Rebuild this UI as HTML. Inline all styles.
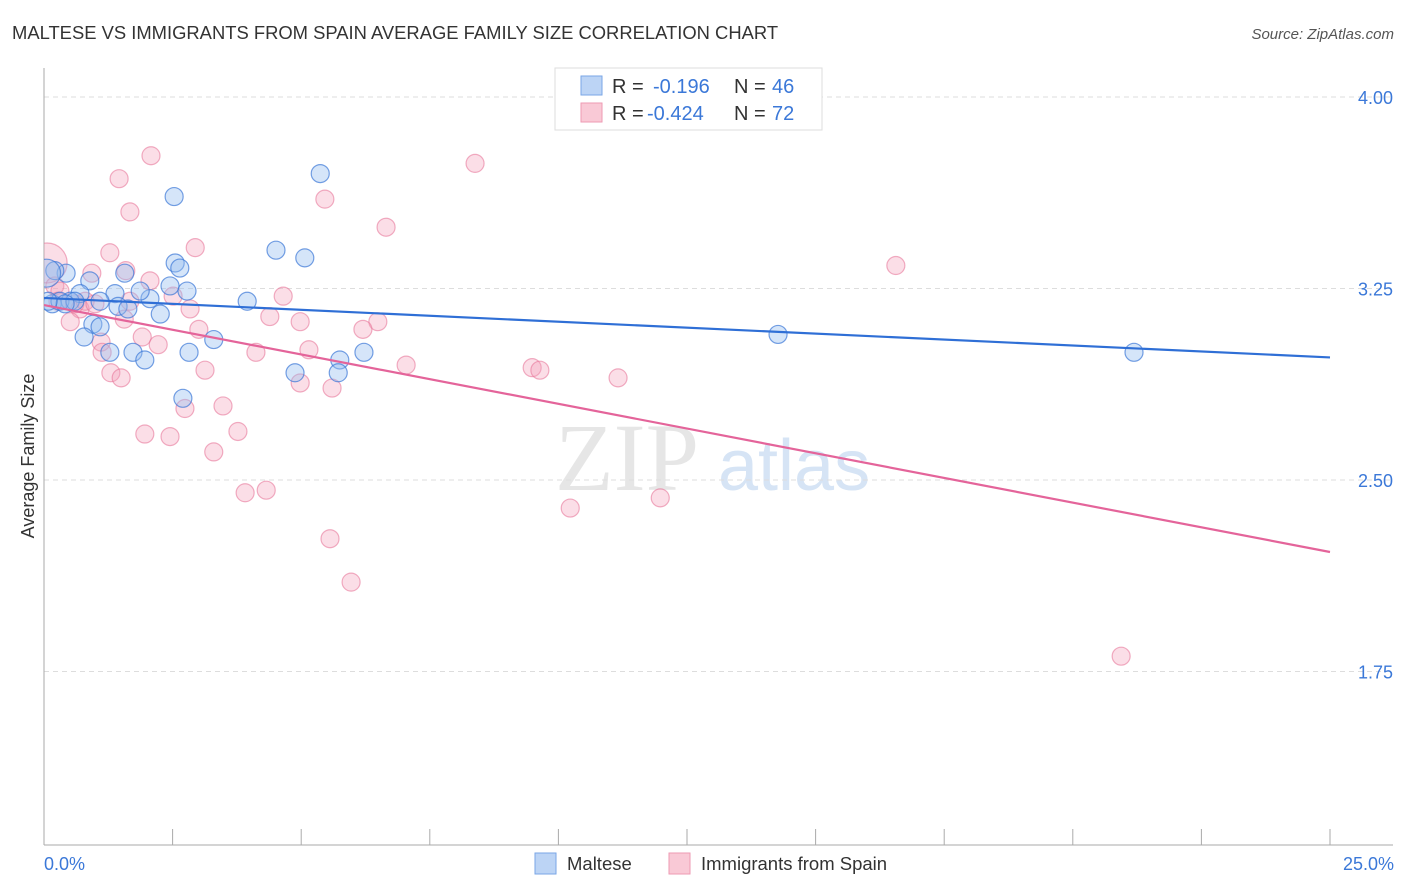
<!DOCTYPE html>
<html><head><meta charset="utf-8">
<style>
body{margin:0;background:#fff;width:1406px;height:892px;overflow:hidden;font-family:"Liberation Sans",sans-serif;}
svg{display:block}
</style></head>
<body>
<svg id="chart" width="1406" height="892" xmlns="http://www.w3.org/2000/svg">
<defs><clipPath id="plotclip"><rect x="44" y="60" width="1360" height="785"/></clipPath></defs>
<text x="12" y="39" font-size="18.4" fill="#333" font-family="Liberation Sans, sans-serif">MALTESE VS IMMIGRANTS FROM SPAIN AVERAGE FAMILY SIZE CORRELATION CHART</text>
<text x="1394" y="39" font-size="15" fill="#555" text-anchor="end" font-style="italic">Source: ZipAtlas.com</text>
<text x="555" y="490" font-size="96" fill="#e6e6e6" font-family="Liberation Serif, serif">ZIP</text>
<text x="718" y="490" font-size="72" fill="#d6e4f5">atlas</text>
<g id="grid"></g>
<g id="axes"></g>
<g id="pts" clip-path="url(#plotclip)"></g>
<g id="lines"></g>
<text transform="translate(34,456) rotate(-90)" font-size="18" fill="#333" text-anchor="middle">Average Family Size</text>
<text x="44" y="870" font-size="18" fill="#3b78d8">0.0%</text>
<text x="1394" y="870" font-size="18" fill="#3b78d8" text-anchor="end">25.0%</text>
<g>
<rect x="555" y="68" width="267" height="62" fill="#fff" stroke="#ddd"/>
<rect x="581" y="76" width="21" height="19" fill="#bcd4f5" stroke="#7aa6e6"/>
<rect x="581" y="103" width="21" height="19" fill="#f9c9d6" stroke="#ee9ab3"/>
<text x="612" y="93" font-size="20" fill="#333">R =</text>
<text x="653" y="93" font-size="20" fill="#3b78d8">-0.196</text>
<text x="734" y="93" font-size="20" fill="#333">N =</text>
<text x="772" y="93" font-size="20" fill="#3b78d8">46</text>
<text x="612" y="120" font-size="20" fill="#333">R =</text>
<text x="647" y="120" font-size="20" fill="#3b78d8">-0.424</text>
<text x="734" y="120" font-size="20" fill="#333">N =</text>
<text x="772" y="120" font-size="20" fill="#3b78d8">72</text>
</g>
<g>
<rect x="535" y="853" width="21" height="21" fill="#bcd4f5" stroke="#7aa6e6"/>
<text x="567" y="870" font-size="18.5" fill="#333">Maltese</text>
</g>
<g>
<rect x="669" y="853" width="21" height="21" fill="#f9c9d6" stroke="#ee9ab3"/>
<text x="701" y="870" font-size="18.5" fill="#333">Immigrants from Spain</text>
</g>
</svg>
<script>
const yTicks=[4.00,3.25,2.50,1.75];
const yTickLabels=["4.00","3.25","2.50","1.75"];
const xTicks=[0,2.5,5,7.5,10,12.5,15,17.5,20,22.5,25];
const malteseX=[2.53,5.37,4.51,5.07,2.55,2.64,0.43,1.57,0.89,2.45,2.78,1.38,3.95,0.70,2.06,0.16,1.44,1.63,2.26,0.51,0.31,0.95,1.09,0.78,1.28,1.73,1.96,2.82,3.30,14.27,21.19,5.75,6.22,4.88,5.72,2.70,0.60,1.09,1.87,0.41,0.08,0.21,0.05];
const malteseY=[3.61,3.70,3.40,3.37,3.35,3.33,3.31,3.31,3.28,3.26,3.24,3.23,3.20,3.23,3.21,3.19,3.18,3.17,3.15,3.20,3.20,3.11,3.10,3.06,3.00,3.00,2.97,3.00,3.05,3.07,3.00,2.97,3.00,2.92,2.92,2.82,3.20,3.20,3.24,3.19,3.20,3.32,3.31];
const malteseR=[9,9,9,9,9,9,9,9,9,9,9,9,9,9,9,9,9,9,9,9,9,9,9,9,9,9,9,9,9,9,9,9,9,9,9,9,9,9,9,9,9,9,14];
const spainX=[2.08,8.38,1.46,5.46,1.67,6.65,2.94,1.28,16.56,0.93,1.59,2.06,0.06,0.21,4.65,2.51,1.67,0.31,0.70,2.84,4.39,4.98,6.49,6.20,0.51,1.56,3.01,1.91,1.11,2.22,5.15,4.12,1.13,3.13,7.04,9.49,9.64,11.16,1.30,1.50,4.98,5.60,2.74,3.48,1.96,2.45,3.77,3.30,3.91,4.32,11.98,10.23,5.56,5.97,20.94,0.27,0.60,0.80,0.99];
const spainY=[3.77,3.74,3.68,3.60,3.55,3.49,3.41,3.39,3.34,3.31,3.32,3.28,3.35,3.26,3.22,3.22,3.20,3.24,3.17,3.17,3.14,3.12,3.12,3.09,3.12,3.13,3.09,3.06,3.04,3.03,3.01,3.00,3.00,2.93,2.95,2.94,2.93,2.90,2.92,2.90,2.88,2.86,2.78,2.79,2.68,2.67,2.69,2.61,2.45,2.46,2.43,2.39,2.27,2.10,1.81,3.20,3.19,3.20,3.19];
const spainR=[9,9,9,9,9,9,9,9,9,9,9,9,20,9,9,9,9,9,9,9,9,9,9,9,9,9,9,9,9,9,9,9,9,9,9,9,9,9,9,9,9,9,9,9,9,9,9,9,9,9,9,9,9,9,9,9,9,9,9];
const trendMaltese=[3.213,2.98];
const trendSpain=[3.185,2.218];
const NS="http://www.w3.org/2000/svg";
function sx(v){return 44+v/25*1286;}
function sy(v){return 97+(4-v)*255.33;}
function mk(t,a,p){const e=document.createElementNS(NS,t);for(const k in a)e.setAttribute(k,a[k]);p.appendChild(e);return e;}
const grid=document.getElementById('grid'),axes=document.getElementById('axes'),pts=document.getElementById('pts'),lines=document.getElementById('lines');
yTicks.forEach((t,i)=>{
 const l=mk('line',{x1:44,x2:1393,y1:sy(t),y2:sy(t),stroke:'#ddd','stroke-dasharray':'5,4'},grid);
 
 
 const tx=mk('text',{x:1393,y:sy(t)+7,'font-size':18,fill:'#3b78d8','text-anchor':'end'},grid);
 tx.textContent=yTickLabels[i];
 
 
});
const ya=mk('line',{x1:44,x2:44,y1:68,y2:845,stroke:'#aaa'},axes);


const xa=mk('line',{x1:44,x2:1393,y1:845,y2:845,stroke:'#aaa'},axes);


xTicks.forEach(t=>{
 const l=mk('line',{x1:sx(t),x2:sx(t),y1:829,y2:845,stroke:'#aaa'},axes);
 
 
});
spainX.forEach((x,i)=>{
 const c=mk('circle',{cx:sx(x),cy:sy(spainY[i]),r:spainR[i],fill:'rgba(244,160,185,0.35)',stroke:'rgba(232,120,155,0.6)','stroke-width':1.2},pts);
 
 
});
malteseX.forEach((x,i)=>{
 const c=mk('circle',{cx:sx(x),cy:sy(malteseY[i]),r:malteseR[i],fill:'rgba(150,190,240,0.4)',stroke:'rgba(60,120,215,0.7)','stroke-width':1.2},pts);
 
 
});
const lb=mk('line',{x1:sx(0),y1:sy(trendMaltese[0]),x2:sx(25),y2:sy(trendMaltese[1]),stroke:'#2f6fd6','stroke-width':2.2},lines);


const lp=mk('line',{x1:sx(0),y1:sy(trendSpain[0]),x2:sx(25),y2:sy(trendSpain[1]),stroke:'#e4649a','stroke-width':2.2},lines);


</script>
</body></html>
